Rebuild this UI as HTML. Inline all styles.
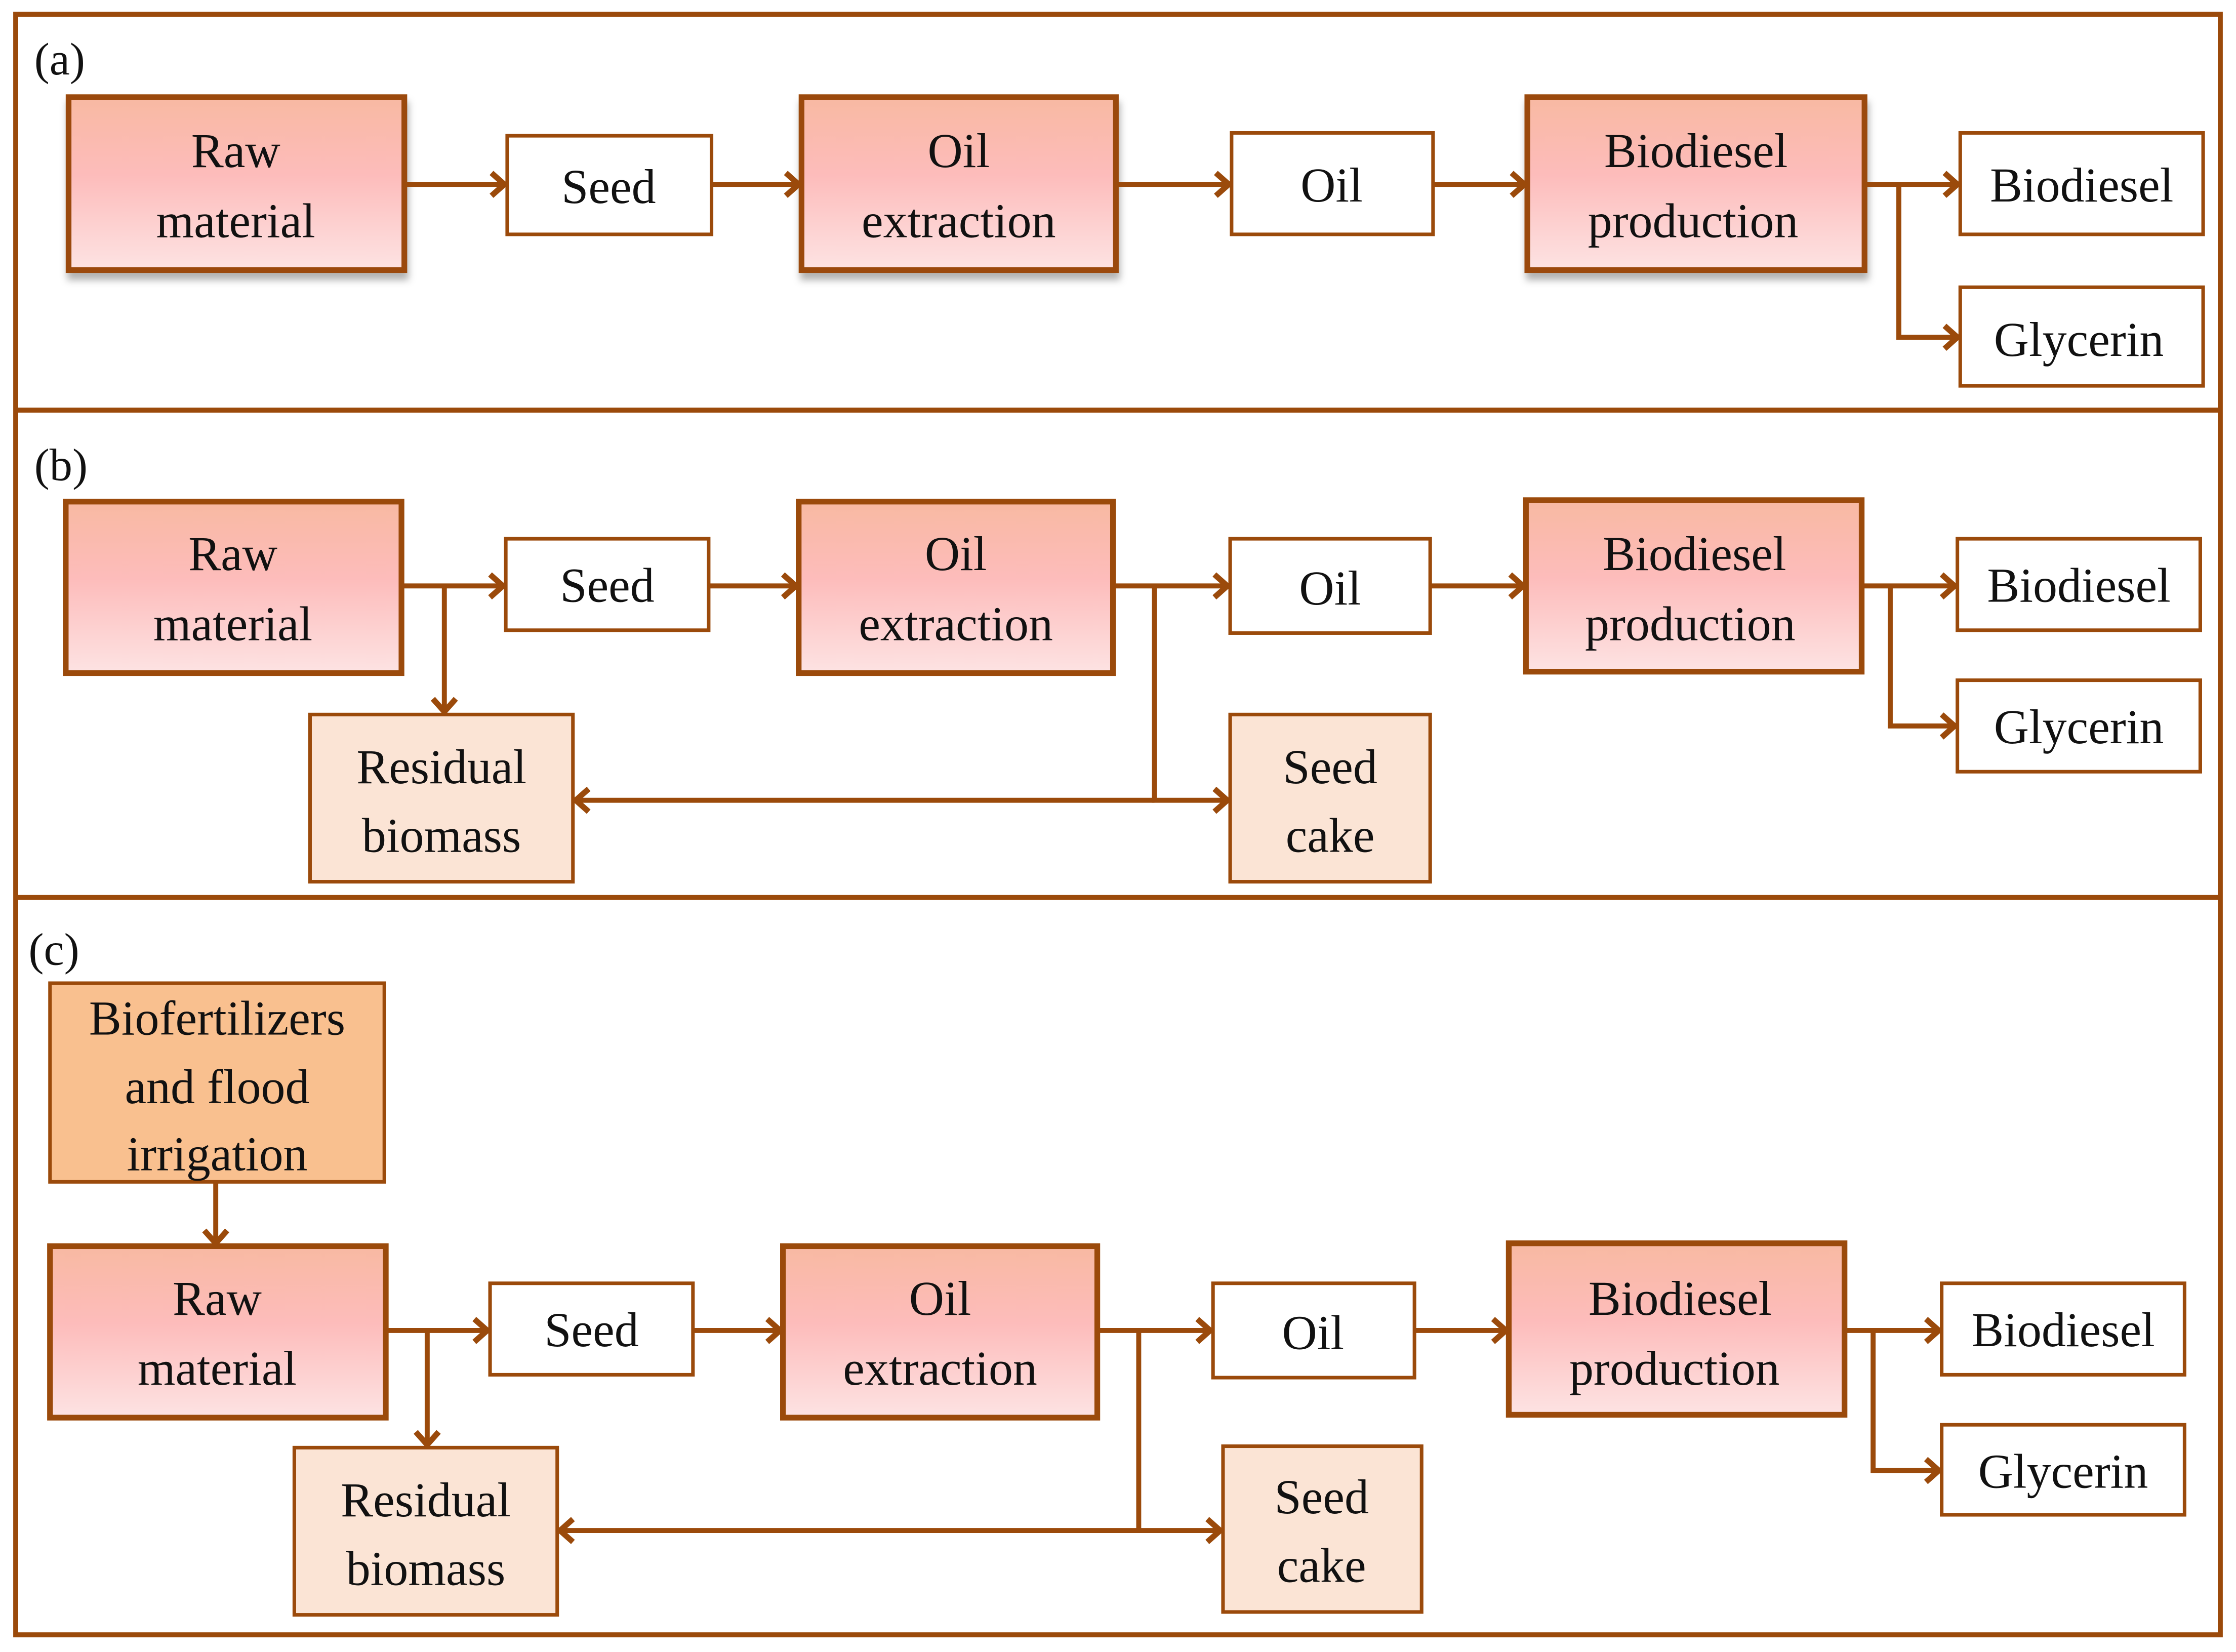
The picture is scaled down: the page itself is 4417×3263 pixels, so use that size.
<!DOCTYPE html>
<html><head><meta charset="utf-8"><style>
html,body{margin:0;padding:0;background:#fff;}
svg{display:block;}
text{font-family:"Liberation Serif",serif;font-size:34px;fill:#111;text-anchor:middle;}
.lbl{text-anchor:start;font-size:32px;}
</style></head><body>
<svg width="4417" height="3263" viewBox="0 0 1565 1156" preserveAspectRatio="none" xmlns="http://www.w3.org/2000/svg">
<defs>
<linearGradient id="pk" x1="0" y1="0" x2="0" y2="1">
<stop offset="0" stop-color="#f8b9a2"/><stop offset="0.45" stop-color="#fdbcbb"/><stop offset="1" stop-color="#fde3e3"/>
</linearGradient>
<marker id="ah" markerWidth="14" markerHeight="20" refX="11" refY="10" orient="auto" markerUnits="userSpaceOnUse">
<polyline points="2,2 11,10 2,18" fill="none" stroke="#9b4a0b" stroke-width="4"/>
</marker>
<filter id="sh" x="-5%" y="-5%" width="115%" height="125%"><feDropShadow dx="1" dy="5" stdDeviation="2.5" flood-color="#000" flood-opacity="0.3"/></filter>
</defs>
<g fill="none" stroke="#9b4a0b" stroke-width="3.5">
<rect x="11" y="10" width="1543" height="1134"/>
<line x1="11" y1="287" x2="1554" y2="287"/>
<line x1="11" y1="628" x2="1554" y2="628"/>
</g>
<text class="lbl" x="24" y="52">(a)</text>
<text class="lbl" x="24" y="336">(b)</text>
<text class="lbl" x="20" y="675">(c)</text>

<!-- Panel a -->
<g stroke="#9b4a0b" stroke-width="4">
<rect x="48" y="68" width="235" height="121" fill="url(#pk)" filter="url(#sh)"/>
<rect x="561" y="68" width="220" height="121" fill="url(#pk)" filter="url(#sh)"/>
<rect x="1069" y="68" width="236" height="121" fill="url(#pk)" filter="url(#sh)"/>
</g>
<g stroke="#9b4a0b" stroke-width="2.5" fill="#fff">
<rect x="355" y="95" width="143" height="69"/>
<rect x="862" y="93" width="141" height="71"/>
<rect x="1372" y="93" width="170" height="71"/>
<rect x="1372" y="201" width="170" height="69"/>
</g>
<g stroke="#9b4a0b" stroke-width="3.5" fill="none" marker-end="url(#ah)">
<line x1="283" y1="129" x2="353" y2="129"/>
<line x1="498" y1="129" x2="559" y2="129"/>
<line x1="781" y1="129" x2="860" y2="129"/>
<line x1="1003" y1="129" x2="1067" y2="129"/>
<line x1="1305" y1="129" x2="1370" y2="129"/>
<polyline points="1329,129 1329,236 1370,236"/>
</g>
<text x="165" y="117">Raw</text><text x="165" y="166">material</text>
<text x="426" y="142">Seed</text>
<text x="671" y="117">Oil</text><text x="671" y="166">extraction</text>
<text x="932" y="141">Oil</text>
<text x="1187" y="117">Biodiesel</text><text x="1185" y="166">production</text>
<text x="1457" y="141">Biodiesel</text>
<text x="1455" y="249">Glycerin</text>

<!-- Panel b -->
<g stroke="#9b4a0b" stroke-width="4">
<rect x="46" y="351" width="235" height="120" fill="url(#pk)"/>
<rect x="559" y="351" width="220" height="120" fill="url(#pk)"/>
<rect x="1068" y="350" width="235" height="120" fill="url(#pk)"/>
</g>
<g stroke="#9b4a0b" stroke-width="2.5" fill="#fff">
<rect x="354" y="377" width="142" height="64"/>
<rect x="861" y="377" width="140" height="66"/>
<rect x="1370" y="377" width="170" height="64"/>
<rect x="1370" y="476" width="170" height="64"/>
</g>
<g stroke="#9b4a0b" stroke-width="2.5" fill="#fbe4d5">
<rect x="217" y="500" width="184" height="117"/>
<rect x="861" y="500" width="140" height="117"/>
</g>
<g stroke="#9b4a0b" stroke-width="3.5" fill="none" marker-end="url(#ah)">
<line x1="281" y1="410" x2="352" y2="410"/>
<line x1="311" y1="410" x2="311" y2="498"/>
<line x1="496" y1="410" x2="557" y2="410"/>
<line x1="779" y1="410" x2="859" y2="410"/>
<line x1="1001" y1="410" x2="1066" y2="410"/>
<line x1="1303" y1="410" x2="1368" y2="410"/>
<polyline points="1323,410 1323,508 1368,508"/>
<polyline points="808,410 808,560 859,560"/>
<line x1="808" y1="560" x2="403" y2="560"/>
</g>
<text x="163" y="399">Raw</text><text x="163" y="448">material</text>
<text x="425" y="421">Seed</text>
<text x="669" y="399">Oil</text><text x="669" y="448">extraction</text>
<text x="931" y="423">Oil</text>
<text x="1186" y="399">Biodiesel</text><text x="1183" y="448">production</text>
<text x="1455" y="421">Biodiesel</text>
<text x="1455" y="520">Glycerin</text>
<text x="309" y="548">Residual</text><text x="309" y="596">biomass</text>
<text x="931" y="548">Seed</text><text x="931" y="596">cake</text>

<!-- Panel c -->
<rect x="35" y="688" width="234" height="139" fill="#f9c08f" stroke="#9b4a0b" stroke-width="2.5"/>
<text x="152" y="724">Biofertilizers</text><text x="152" y="772">and flood</text><text x="152" y="819">irrigation</text>
<g stroke="#9b4a0b" stroke-width="4">
<rect x="35" y="872" width="235" height="120" fill="url(#pk)"/>
<rect x="548" y="872" width="220" height="120" fill="url(#pk)"/>
<rect x="1056" y="870" width="235" height="120" fill="url(#pk)"/>
</g>
<g stroke="#9b4a0b" stroke-width="2.5" fill="#fff">
<rect x="343" y="898" width="142" height="64"/>
<rect x="849" y="898" width="141" height="66"/>
<rect x="1359" y="898" width="170" height="64"/>
<rect x="1359" y="997" width="170" height="63"/>
</g>
<g stroke="#9b4a0b" stroke-width="2.5" fill="#fbe4d5">
<rect x="206" y="1013" width="184" height="117"/>
<rect x="856" y="1012" width="139" height="116"/>
</g>
<g stroke="#9b4a0b" stroke-width="3.5" fill="none" marker-end="url(#ah)">
<line x1="151" y1="827" x2="151" y2="870"/>
<line x1="270" y1="931" x2="341" y2="931"/>
<line x1="299" y1="931" x2="299" y2="1011"/>
<line x1="485" y1="931" x2="546" y2="931"/>
<line x1="768" y1="931" x2="847" y2="931"/>
<line x1="990" y1="931" x2="1054" y2="931"/>
<line x1="1291" y1="931" x2="1357" y2="931"/>
<polyline points="1311,931 1311,1029 1357,1029"/>
<polyline points="797,931 797,1071 854,1071"/>
<line x1="797" y1="1071" x2="392" y2="1071"/>
</g>
<text x="152" y="920">Raw</text><text x="152" y="969">material</text>
<text x="414" y="942">Seed</text>
<text x="658" y="920">Oil</text><text x="658" y="969">extraction</text>
<text x="919" y="944">Oil</text>
<text x="1176" y="920">Biodiesel</text><text x="1172" y="969">production</text>
<text x="1444" y="942">Biodiesel</text>
<text x="1444" y="1041">Glycerin</text>
<text x="298" y="1061">Residual</text><text x="298" y="1109">biomass</text>
<text x="925" y="1059">Seed</text><text x="925" y="1107">cake</text>
</svg>
</body></html>
